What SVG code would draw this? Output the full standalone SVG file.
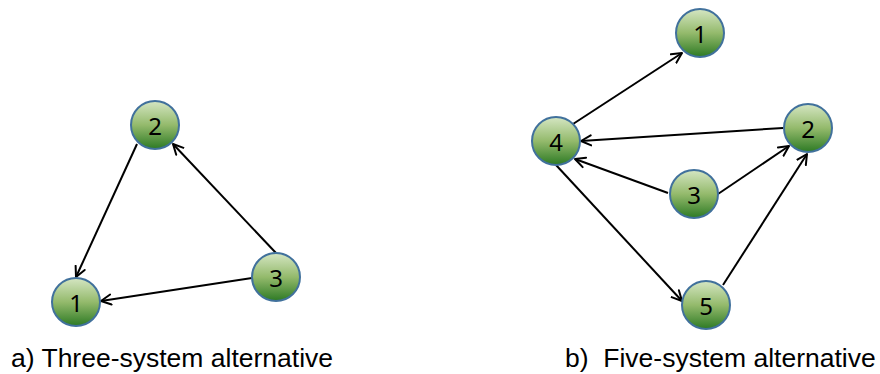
<svg xmlns="http://www.w3.org/2000/svg" width="880" height="374" viewBox="0 0 880 374">
<defs>
<linearGradient id="g" x1="0" y1="0" x2="0" y2="1">
<stop offset="0" stop-color="#d5e6c3"/>
<stop offset="0.5" stop-color="#94ba6c"/>
<stop offset="1" stop-color="#2d7a24"/>
</linearGradient>
<marker id="arr" markerUnits="userSpaceOnUse" markerWidth="14" markerHeight="14" refX="11" refY="6" orient="auto" viewBox="0 0 14 12">
<path d="M1,1 L11,6 L1,11" fill="none" stroke="#000" stroke-width="2" stroke-linecap="round" stroke-linejoin="round"/>
</marker>
</defs>
<style>
.n circle{fill:url(#g);stroke:#41719c;stroke-width:2}
.n text{font-family:"Noto Sans",sans-serif;font-size:24px;text-anchor:middle;fill:#000}
.e line{stroke:#000;stroke-width:2;marker-end:url(#arr)}
.cap{font-family:"Liberation Sans",Arial,sans-serif;font-size:26.5px;fill:#000}
</style>
<g id="connectors" class="e">
<line x1="137" y1="144" x2="76" y2="277"/>
<line x1="276" y1="253" x2="173" y2="144"/>
<line x1="252" y1="278" x2="101" y2="301"/>
<line x1="573" y1="124" x2="682" y2="53"/>
<line x1="783" y1="128" x2="581" y2="141"/>
<line x1="668" y1="193" x2="575" y2="159"/>
<line x1="718" y1="194" x2="789" y2="146"/>
<line x1="723" y1="285" x2="807" y2="154"/>
<line x1="556" y1="165" x2="682" y2="301"/>
</g>
<g id="a2" class="n"><circle cx="155" cy="125" r="24"/><text x="155" y="135">2</text></g>
<g id="a1" class="n"><circle cx="76" cy="302" r="24"/><text x="76" y="312">1</text></g>
<g id="a3" class="n"><circle cx="276" cy="277" r="24"/><text x="276" y="287">3</text></g>
<g id="b1" class="n"><circle cx="700" cy="33" r="24"/><text x="700" y="43">1</text></g>
<g id="b4" class="n"><circle cx="556" cy="141" r="24"/><text x="556" y="151">4</text></g>
<g id="b2" class="n"><circle cx="808" cy="128" r="24"/><text x="808" y="138">2</text></g>
<g id="b3" class="n"><circle cx="694" cy="194" r="24"/><text x="694" y="204">3</text></g>
<g id="b5" class="n"><circle cx="706" cy="305" r="24"/><text x="706" y="315">5</text></g>
<text class="cap" x="11" y="367">a) Three-system alternative</text>
<text class="cap" x="565" y="367" xml:space="preserve">b)  Five-system alternative</text>
</svg>
